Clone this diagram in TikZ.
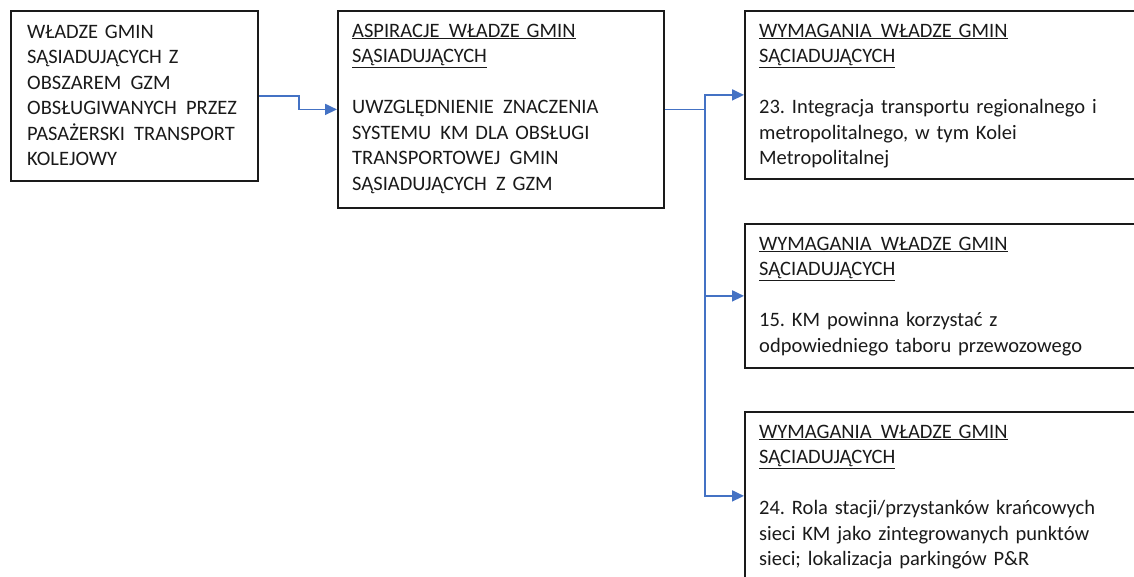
\documentclass[tikz,border=0pt]{standalone}
\usepackage{fontspec}
\setmainfont{Carlito}
\usetikzlibrary{arrows.meta}
\definecolor{linkblue}{HTML}{4472C4}
\definecolor{ink}{HTML}{1A1A1A}
% slightly widened word gap used in the headings
\newcommand{\wgap}{\hspace{0.45em}}
\tikzset{
  box/.style={draw=ink, line width=1.8pt, anchor=north west, inner sep=0pt},
  txt/.style={anchor=base west, inner sep=0pt, align=left, text=ink,
    font=\fontsize{20.5}{25.5}\selectfont\frenchspacing},
  arr/.style={draw=linkblue, line width=1.8pt, -{Triangle[length=12pt,width=11pt]}},
  link/.style={draw=linkblue, line width=1.8pt},
}
\begin{document}
\begin{tikzpicture}[x=1pt,y=-1pt]
\useasboundingbox (0,0) rectangle (1134,576);
\clip (0,0) rectangle (1134,576);

% boxes
\node[box, minimum width=247pt, minimum height=170pt] (b1) at (10,10) {};
\node[box, minimum width=326pt, minimum height=197pt] (b2) at (337,10) {};
\node[box, minimum width=400pt, minimum height=168pt] (b3) at (744,10) {};
\node[box, minimum width=400pt, minimum height=144pt] (b4) at (744,223) {};
\node[box, minimum width=400pt, minimum height=168pt] (b5) at (744,411) {};

% texts
\node[txt, text width=240pt] (t1) at (27,38) {WŁADZE GMIN\\SĄSIADUJĄCYCH Z\\OBSZAREM\wgap GZM\\OBSŁUGIWANYCH\wgap PRZEZ\\PASAŻERSKI\wgap TRANSPORT\\KOLEJOWY};
\node[txt, text width=310pt] (t2) at (352,37) {\underline{ASPIRACJE\wgap WŁADZE GMIN}\\\underline{SĄSIADUJĄCYCH}\\[25.5pt]UWZGLĘDNIENIE\wgap ZNACZENIA\\SYSTEMU\wgap KM DLA OBSŁUGI\\TRANSPORTOWEJ\wgap GMIN\\SĄSIADUJĄCYCH\wgap Z GZM};
\node[txt, text width=380pt] (t3) at (759,37) {\underline{WYMAGANIA\wgap WŁADZE GMIN}\\\underline{SĄCIADUJĄCYCH}\\[25.5pt]23. Integracja transportu regionalnego i\\metropolitalnego, w tym Kolei\\Metropolitalnej};
\node[txt, text width=380pt] (t4) at (759,250) {\underline{WYMAGANIA\wgap WŁADZE GMIN}\\\underline{SĄCIADUJĄCYCH}\\[25.5pt]15. KM powinna korzystać z\\odpowiedniego taboru przewozowego};
\node[txt, text width=380pt] (t5) at (759,438) {\underline{WYMAGANIA\wgap WŁADZE GMIN}\\\underline{SĄCIADUJĄCYCH}\\[25.5pt]24. Rola stacji/przystanków krańcowych\\sieci KM jako zintegrowanych punktów\\sieci; lokalizacja parkingów P\&R};

% connectors
\draw[arr] (b1.east) -- ++(40,0) |- (b2.west);
\coordinate (j) at ([xshift=40pt]b2.east);
\draw[link] (b2.east) -- (j);
\draw[arr] (j) |- (b3.west);
\draw[arr] (j) |- (b4.west);
\draw[arr] (j) |- (b5.west);
\end{tikzpicture}
\end{document}
